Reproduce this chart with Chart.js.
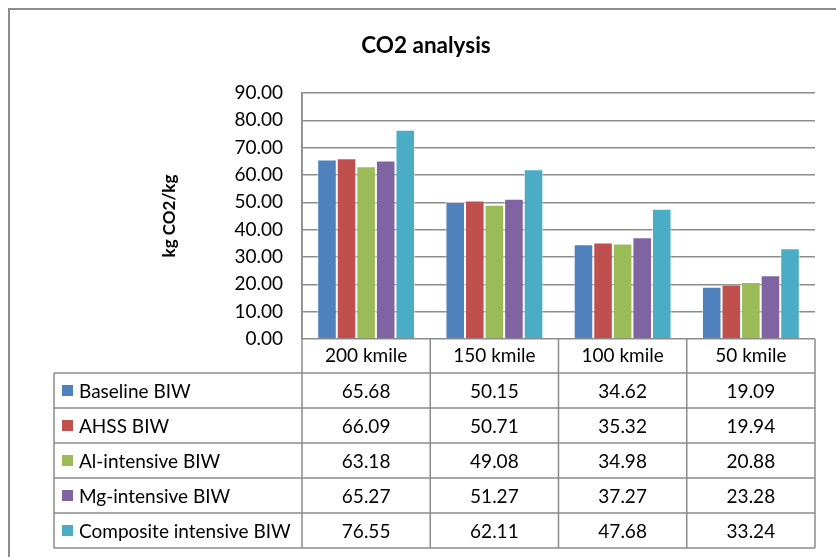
<!DOCTYPE html>
<html>
<head>
<meta charset="utf-8">
<title>CO2 analysis</title>
<script src="https://cdn.jsdelivr.net/npm/chart.js@4.4.0/dist/chart.umd.min.js"></script>
<style>
    html, body { margin: 0; padding: 0; background: #ffffff; }
    canvas { display: block; }
</style>
</head>
<body>
<canvas id="co2Chart" width="836" height="557"></canvas>
<script>
// Mileage scenarios and lifetime CO2 per body-in-white design
const categories = ['200 kmile', '150 kmile', '100 kmile', '50 kmile'];
const seriesNames = ['Baseline BIW', 'AHSS BIW', 'Al-intensive BIW', 'Mg-intensive BIW', 'Composite intensive BIW'];
const baselineBIW = [65.68, 50.15, 34.62, 19.09];
const ahssBIW = [66.09, 50.71, 35.32, 19.94];
const alIntensiveBIW = [63.18, 49.08, 34.98, 20.88];
const mgIntensiveBIW = [65.27, 51.27, 37.27, 23.28];
const compositeBIW = [76.55, 62.11, 47.68, 33.24];
const yTickMin = 0;
const yTickMax = 90;
const yTickStep = 10;

const seriesValues = [baselineBIW, ahssBIW, alIntensiveBIW, mgIntensiveBIW, compositeBIW];
const seriesColors = ['#4f81bd', '#c0504d', '#9bbb59', '#8064a2', '#4bacc6'];

const GRID_COLOR = '#8c8c8c';
const FONT = 'Lato, "Open Sans", sans-serif';
const HEADER_H = 34;
const ROW_H = 35;
const TABLE_LEFT = 54;

// Grey frame round the whole chart object
const framePlugin = {
    id: 'frame',
    beforeDraw(chart) {
        const ctx = chart.ctx;
        ctx.save();
        ctx.strokeStyle = GRID_COLOR;
        ctx.lineWidth = 2;
        ctx.strokeRect(9, 9, 1000, 1000);
        ctx.restore();
    }
};

// Data table under the plot: header row holds the axis labels, then one row per series
const dataTablePlugin = {
    id: 'dataTable',
    afterDraw(chart) {
        const ctx = chart.ctx;
        const area = chart.chartArea;
        const xScale = chart.scales.x;
        const colW = (area.right - area.left) / categories.length;
        const headTop = area.bottom;
        const headBottom = headTop + HEADER_H;
        const tableBottom = headBottom + ROW_H * seriesNames.length;

        ctx.save();
        ctx.strokeStyle = GRID_COLOR;
        ctx.lineWidth = 1.5;
        ctx.beginPath();
        for (let r = 0; r <= seriesNames.length; r++) {
            const y = headBottom + r * ROW_H;
            ctx.moveTo(TABLE_LEFT, y);
            ctx.lineTo(area.right, y);
        }
        ctx.moveTo(TABLE_LEFT, headBottom);
        ctx.lineTo(TABLE_LEFT, tableBottom);
        for (let i = 0; i <= categories.length; i++) {
            const x = area.left + i * colW;
            ctx.moveTo(x, i === 0 ? area.top : headTop);
            ctx.lineTo(x, tableBottom);
        }
        ctx.stroke();

        ctx.font = '19px ' + FONT;
        ctx.fillStyle = '#000000';
        ctx.textBaseline = 'middle';
        seriesNames.forEach((name, r) => {
            const yMid = headBottom + r * ROW_H + ROW_H / 2;
            // legend key
            ctx.fillStyle = seriesColors[r];
            ctx.fillRect(62, yMid - 5.5, 11, 11);
            ctx.fillStyle = '#000000';
            ctx.textAlign = 'left';
            ctx.fillText(name, 79, yMid + 1);
            ctx.textAlign = 'center';
            seriesValues[r].forEach((v, i) => {
                ctx.fillText(v.toFixed(2), xScale.getPixelForValue(i), yMid + 1);
            });
        });
        ctx.restore();
    }
};

const ctx = document.getElementById('co2Chart').getContext('2d');
new Chart(ctx, {
    type: 'bar',
    data: {
        labels: categories,
        datasets: seriesNames.map((name, i) => ({
            label: name,
            data: seriesValues[i],
            backgroundColor: seriesColors[i],
            borderColor: 'rgba(255, 255, 255, 0.55)',
            borderWidth: 1,
            categoryPercentage: 0.763,
            barPercentage: 1
        }))
    },
    options: {
        responsive: false,
        animation: false,
        events: [],
        layout: { padding: { left: 37, right: 21, top: 0, bottom: 0 } },
        plugins: {
            legend: { display: false },
            tooltip: { enabled: false },
            title: {
                display: true,
                text: 'CO2 analysis',
                color: '#000000',
                font: { family: FONT, size: 22.5, weight: 'bold' },
                padding: { top: 32.5, bottom: 33.5 }
            }
        },
        scales: {
            x: {
                grid: { display: false, drawTicks: false },
                border: { display: false },
                ticks: {
                    color: '#000000',
                    font: { family: FONT, size: 19 },
                    padding: 5.6,
                    maxRotation: 0
                },
                afterFit(scale) { scale.height = 218; }
            },
            y: {
                min: yTickMin,
                max: yTickMax,
                grid: { color: GRID_COLOR, lineWidth: 1.5, drawTicks: false },
                border: { display: true, color: GRID_COLOR, width: 1.5 },
                ticks: {
                    stepSize: yTickStep,
                    color: '#000000',
                    font: { family: FONT, size: 19 },
                    padding: 19,
                    callback: (v) => Number(v).toFixed(2)
                },
                title: {
                    display: true,
                    text: 'kg CO2/kg',
                    color: '#000000',
                    font: { family: FONT, size: 17, weight: 'bold' },
                    padding: { top: 122.8, bottom: 0 }
                },
                afterFit(scale) { scale.width = 265; }
            }
        }
    },
    plugins: [framePlugin, dataTablePlugin]
});
</script>
</body>
</html>
